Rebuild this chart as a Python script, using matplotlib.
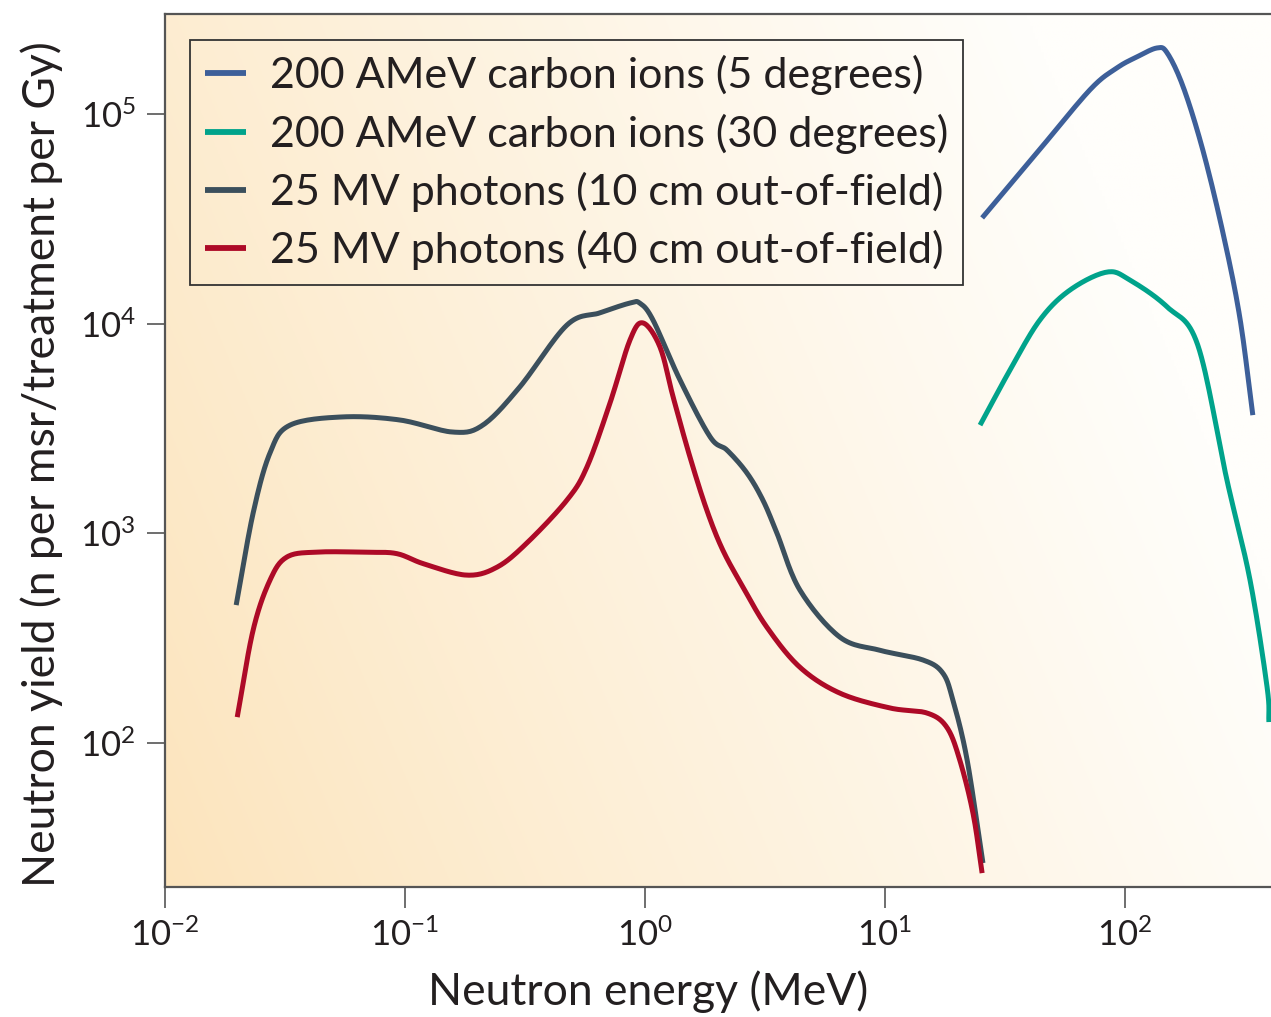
import numpy as np
import matplotlib
matplotlib.use("Agg")
import matplotlib.pyplot as plt
from matplotlib.colors import to_rgb

plt.rcParams['font.family'] = ['Lato', 'DejaVu Sans']

# neutron spectra: energy in MeV, yield in n per msr/treatment per Gy

# 200 AMeV carbon ions, 5 degrees
c5_energy = [25.4, 42.6, 71.4, 92.6, 112, 136, 150, 175, 211, 256, 301, 341]
c5_yield = [31900, 64400, 130000, 165500, 186600, 206000, 195000, 134000,
            67300, 27100, 10700, 3660]

# 200 AMeV carbon ions, 30 degrees
c30_energy = [24.9, 33.2, 44.2, 59.0, 84.1, 105, 150, 201, 266, 332, 391, 398]
c30_yield = [3280, 6010, 10400, 14450, 17600, 16100, 12000, 7910,
             1795, 599, 185, 126]

# 25 MV photons, 10 cm out-of-field
p10_energy = [0.0198, 0.0233, 0.0274, 0.0332, 0.0552, 0.0953, 0.158, 0.211,
              0.301, 0.473, 0.649, 0.866, 0.953, 1.08, 1.40, 1.87, 2.20, 2.66,
              3.10, 3.55, 4.42, 6.49, 9.53, 14.4, 17.4, 19.2, 22.0, 25.6]
p10_yield = [455, 1250, 2420, 3280, 3590, 3470, 3040, 3280,
             4990, 9840, 11250, 12530, 12500, 10400, 5380, 2880, 2490, 1940,
             1440, 1000, 537, 320, 277, 249, 216, 160, 83, 26.8]

# 25 MV photons, 40 cm out-of-field
p40_energy = [0.0200, 0.0233, 0.0274, 0.0322, 0.0430, 0.0700, 0.0926, 0.120,
              0.181, 0.242, 0.322, 0.473, 0.573, 0.715, 0.866, 0.981, 1.155,
              1.31, 1.54, 1.81, 2.11, 2.56, 3.22, 4.42, 6.49, 10.5, 15.0,
              18.1, 20.5, 23.3, 25.4]
p40_yield = [133, 346, 599, 771, 814, 812, 800, 715,
             632, 690, 899, 1440, 2070, 4180, 8350, 10070, 7730,
             4470, 2310, 1290, 832, 555, 357, 230, 173, 147, 139,
             119, 83, 46, 24]

labels = ['200 AMeV carbon ions (5 degrees)',
          '200 AMeV carbon ions (30 degrees)',
          '25 MV photons (10 cm out-of-field)',
          '25 MV photons (40 cm out-of-field)']
colors = ['#3d5f99', '#00a38b', '#3b4f5c', '#ad0a27']


def smooth_path(e, y, steps=16):
    # Catmull-Rom path through the points, in log-log space
    p = np.column_stack([np.log10(e), np.log10(y)])
    p = np.vstack([2 * p[0] - p[1], p, 2 * p[-1] - p[-2]])
    s = np.linspace(0, 1, steps, endpoint=False)[:, None]
    out = []
    for i in range(1, len(p) - 2):
        p0, p1, p2, p3 = p[i - 1], p[i], p[i + 1], p[i + 2]
        seg = 0.5 * ((2 * p1) + (-p0 + p2) * s
                     + (2 * p0 - 5 * p1 + 4 * p2 - p3) * s ** 2
                     + (-p0 + 3 * p1 - 3 * p2 + p3) * s ** 3)
        out.append(seg)
    out.append(p[-2][None, :])
    out = np.vstack(out)
    return 10 ** out[:, 0], 10 ** out[:, 1]


fig = plt.figure(figsize=(12.71, 10.17), dpi=100)
ax = fig.add_axes([0.1298, 0.1278, 0.8702, 0.8584])

# warm background wash, darker towards the lower left
gx, gy = np.meshgrid(np.linspace(0, 1, 400), np.linspace(0, 1, 400))
t = np.clip(0.9 * gx + 0.3 * gy, 0, 1) ** 0.9
warm = np.array(to_rgb('#fce4bc'))
pale = np.array(to_rgb('#fffefb'))
bg = warm[None, None, :] * (1 - t[..., None]) + pale[None, None, :] * t[..., None]
ax.imshow(bg, extent=[0, 1, 0, 1], transform=ax.transAxes, origin='lower',
          aspect='auto', zorder=0)

series = [(c5_energy, c5_yield), (c30_energy, c30_yield),
          (p10_energy, p10_yield), (p40_energy, p40_yield)]
for (e, y), lab, col in zip(series, labels, colors):
    xs, ys = smooth_path(e, y)
    ax.plot(xs, ys, color=col, lw=3.6, label=lab, solid_joinstyle='round',
            solid_capstyle='butt', zorder=3)

ax.set_xscale('log')
ax.set_yscale('log')
ax.set_xlim(0.01, 406)
ax.set_ylim(20.6, 2.99e5)

ax.set_xticks([1e-2, 1e-1, 1e0, 1e1, 1e2])
ax.set_xticklabels([r'$\mathregular{10^{-2}}$', r'$\mathregular{10^{-1}}$',
                    r'$\mathregular{10^{0}}$', r'$\mathregular{10^{1}}$',
                    r'$\mathregular{10^{2}}$'])
ax.set_yticks([1e2, 1e3, 1e4, 1e5])
ax.set_yticklabels([r'$\mathregular{10^{2}}$', r'$\mathregular{10^{3}}$',
                    r'$\mathregular{10^{4}}$', r'$\mathregular{10^{5}}$'])
ax.minorticks_off()

ax.tick_params(axis='x', length=15, width=1.2, color='#555555', pad=7,
               labelsize=25, labelcolor='#231f20')
ax.tick_params(axis='y', length=13, width=1.2, color='#555555', pad=8,
               labelsize=25, labelcolor='#231f20')

for side in ['left', 'bottom', 'top']:
    ax.spines[side].set_color('#555555')
    ax.spines[side].set_linewidth(1.6)
ax.spines['right'].set_visible(False)

ax.set_xlabel('Neutron energy (MeV)', fontsize=32, color='#231f20', labelpad=6)
ax.xaxis.set_label_coords(0.437, -0.095)
ax.set_ylabel('Neutron yield (n per msr/treatment per Gy)', fontsize=32,
              color='#231f20')
ax.yaxis.set_label_coords(-0.092, 0.485)

leg = ax.legend(loc='upper left', bbox_to_anchor=(0.0226, 0.970),
                borderaxespad=0, fontsize=31, handlelength=0.95,
                handletextpad=0.55, labelspacing=0.42, borderpad=0.35,
                fancybox=False, framealpha=1)
leg.get_frame().set_facecolor('none')
leg.get_frame().set_edgecolor('#333333')
leg.get_frame().set_linewidth(1.3)
for txt in leg.get_texts():
    txt.set_color('#231f20')
for line in leg.get_lines():
    line.set_linewidth(4.2)

fig.savefig('out.png', dpi=100)
